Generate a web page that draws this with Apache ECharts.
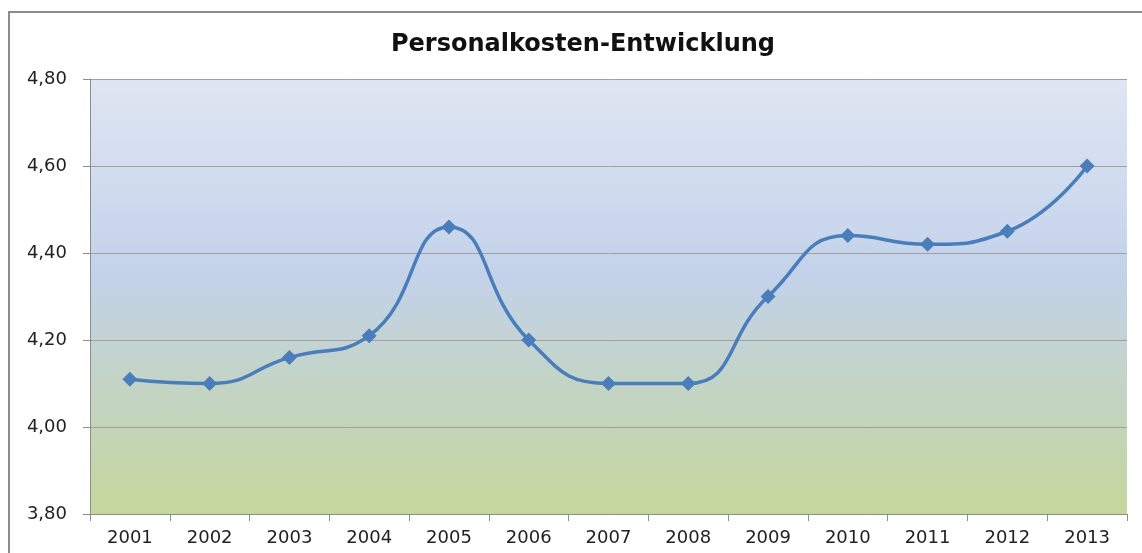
<!DOCTYPE html>
<html>
<head>
<meta charset="utf-8">
<script src="https://cdn.jsdelivr.net/npm/echarts@6/dist/echarts.min.js"></script>
<style>
  html, body { margin: 0; padding: 0; background: #ffffff; }
  #chart { width: 1142px; height: 553px; }
</style>
</head>
<body>
<div id="chart"></div>
<script>
const years = ['2001', '2002', '2003', '2004', '2005', '2006', '2007', '2008', '2009', '2010', '2011', '2012', '2013'];
const kosten = [4.11, 4.10, 4.16, 4.21, 4.46, 4.20, 4.10, 4.10, 4.30, 4.44, 4.42, 4.45, 4.60];
const yMin = 3.8;
const yMax = 4.8;
const yStep = 0.2;

const chart = echarts.init(document.getElementById('chart'));

const option = {
  animation: false,
  title: {
    text: 'Personalkosten-Entwicklung',
    left: 578,
    textAlign: 'center',
    top: 28,
    textStyle: {
      fontFamily: 'DejaVu Sans',
      fontSize: 24,
      fontWeight: 'bold',
      color: '#111111'
    }
  },
  graphic: [
    {
      type: 'rect',
      silent: true,
      shape: { x: 9, y: 12, width: 1200, height: 600 },
      style: { fill: 'none', stroke: '#8c8c8c', lineWidth: 2 }
    }
  ],
  grid: {
    left: 90,
    top: 79,
    right: 15,
    bottom: 39,
    show: true,
    borderWidth: 0,
    backgroundColor: new echarts.graphic.LinearGradient(0, 0, 0, 1, [
      { offset: 0, color: '#dfe6f3' },
      { offset: 0.45, color: '#c3d2ea' },
      { offset: 0.7, color: '#c3d4c6' },
      { offset: 1, color: '#c4d79b' }
    ])
  },
  xAxis: {
    type: 'category',
    data: years,
    boundaryGap: true,
    axisLine: { lineStyle: { color: '#8c8c8c', width: 1 } },
    axisTick: { show: true, interval: 0, length: 7, lineStyle: { color: '#8c8c8c' } },
    axisLabel: {
      interval: 0,
      margin: 15,
      color: '#222222',
      fontFamily: 'DejaVu Sans',
      fontSize: 18
    }
  },
  yAxis: {
    type: 'value',
    min: yMin,
    max: yMax,
    interval: yStep,
    axisLine: { show: true, lineStyle: { color: '#8c8c8c', width: 1 } },
    axisTick: { show: true, length: 7, lineStyle: { color: '#8c8c8c' } },
    axisLabel: {
      margin: 23,
      color: '#222222',
      fontFamily: 'DejaVu Sans',
      fontSize: 18,
      formatter: v => v.toFixed(2).replace('.', ',')
    },
    splitLine: { show: true, lineStyle: { color: '#a0a0a0', width: 1 } }
  },
  series: [
    {
      name: 'Personalkosten',
      type: 'line',
      data: kosten,
      smooth: 0.5,
      symbol: 'diamond',
      symbolSize: 15,
      lineStyle: { color: '#4a7ebb', width: 3.5 },
      itemStyle: { color: '#4a7ebb' }
    }
  ]
};

chart.setOption(option);
</script>
</body>
</html>
